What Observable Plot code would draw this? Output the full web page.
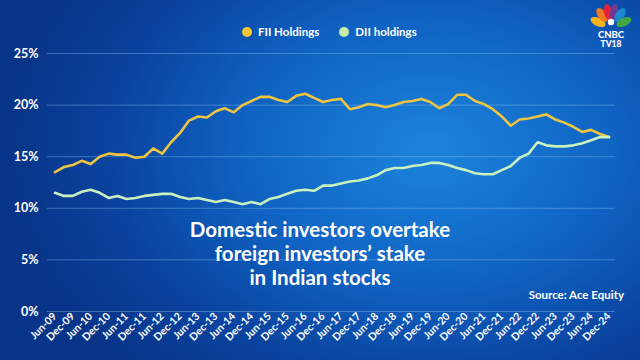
<!DOCTYPE html>
<html>
<head>
<meta charset="utf-8">
<script src="https://cdn.jsdelivr.net/npm/d3@7"></script>
<script src="https://cdn.jsdelivr.net/npm/@observablehq/plot@0.6"></script>
<style>
  html, body { margin: 0; padding: 0; }
  body { width: 640px; height: 360px; overflow: hidden; font-family: Lato, "Open Sans", sans-serif; }
  #wrap {
    position: relative; width: 640px; height: 360px;
    background: radial-gradient(ellipse 420px 300px at 430px 150px, #1c84dc 0%, #0f62c2 45%, #0a44a0 75%, #083589 100%);
  }
  #chart { position: absolute; left: 0; top: 0; }
  .legend { position: absolute; top: 25px; left: 242px; display: flex; gap: 20px; color: #fff; font-weight: 700; font-size: 11.5px; }
  .legend span { display: flex; align-items: center; }
  .legend i { display: inline-block; width: 10px; height: 10px; border-radius: 50%; margin-right: 6px; }
  .title { position: absolute; left: 100px; width: 440px; top: 217px; text-align: center; color: #fff; font-weight: 700; font-size: 20.5px; line-height: 24px; }
  .source { position: absolute; right: 16px; top: 288px; color: #fff; font-weight: 700; font-size: 11.5px; }
  .logo { position: absolute; left: 586px; top: 1px; width: 50px; height: 50px; overflow: visible; }
</style>
</head>
<body>
<div id="wrap">
  <div id="chart"></div>
  <div class="legend">
    <span><i style="background:#f7c733"></i>FII Holdings</span>
    <span><i style="background:#c8eea8"></i>DII holdings</span>
  </div>
  <div class="title">Domestic investors overtake<br>foreign investors’ stake<br>in Indian stocks</div>
  <div class="source">Source: Ace Equity</div>
  <svg class="logo" viewBox="0 0 50 50">
    <g transform="translate(25,27)">
      <ellipse cx="-13" cy="-6" rx="4.2" ry="8" transform="rotate(-65 -13 -6)" fill="#f6b21b"/>
      <ellipse cx="-9" cy="-13" rx="4.2" ry="8" transform="rotate(-35 -9 -13)" fill="#ef7b21"/>
      <ellipse cx="-3" cy="-16" rx="4" ry="8" transform="rotate(-10 -3 -16)" fill="#e2233b"/>
      <ellipse cx="3" cy="-16" rx="4" ry="8" transform="rotate(10 3 -16)" fill="#6e3b8f"/>
      <ellipse cx="9" cy="-13" rx="4.2" ry="8" transform="rotate(35 9 -13)" fill="#1b88d0"/>
      <ellipse cx="13" cy="-6" rx="4.2" ry="8" transform="rotate(65 13 -6)" fill="#43a843"/>
      <circle cx="0" cy="-6" r="3.2" fill="#ffffff"/>
    </g>
    <text x="25" y="36.5" text-anchor="middle" font-family="Lato, sans-serif" font-weight="900" font-size="9.5" fill="#fff">CNBC</text>
    <text x="25" y="46" text-anchor="middle" font-family="Lato, sans-serif" font-weight="900" font-size="8.5" fill="#fff">TV18</text>
  </svg>
</div>
<script>
const quarters = [
  "Jun-09","Sep-09","Dec-09",
  "Mar-10","Jun-10","Sep-10","Dec-10",
  "Mar-11","Jun-11","Sep-11","Dec-11",
  "Mar-12","Jun-12","Sep-12","Dec-12",
  "Mar-13","Jun-13","Sep-13","Dec-13",
  "Mar-14","Jun-14","Sep-14","Dec-14",
  "Mar-15","Jun-15","Sep-15","Dec-15",
  "Mar-16","Jun-16","Sep-16","Dec-16",
  "Mar-17","Jun-17","Sep-17","Dec-17",
  "Mar-18","Jun-18","Sep-18","Dec-18",
  "Mar-19","Jun-19","Sep-19","Dec-19",
  "Mar-20","Jun-20","Sep-20","Dec-20",
  "Mar-21","Jun-21","Sep-21","Dec-21",
  "Mar-22","Jun-22","Sep-22","Dec-22",
  "Mar-23","Jun-23","Sep-23","Dec-23",
  "Mar-24","Jun-24","Sep-24","Dec-24"
];

const fiiHoldings = [
  13.5, 14.0, 14.2, 14.6, 14.3, 15.0, 15.3, 15.2, 15.2, 14.9,
  15.0, 15.8, 15.3, 16.4, 17.3, 18.5, 18.9, 18.8, 19.4, 19.7,
  19.3, 20.0, 20.4, 20.8, 20.8, 20.5, 20.3, 20.9, 21.1, 20.7,
  20.3, 20.5, 20.6, 19.6, 19.8, 20.1, 20.0, 19.8, 20.0, 20.3,
  20.4, 20.6, 20.3, 19.7, 20.1, 21.0, 21.0, 20.4, 20.1, 19.6,
  18.9, 18.0, 18.6, 18.7, 18.9, 19.1, 18.6, 18.3, 17.9, 17.4,
  17.6, 17.2, 16.9
];

const diiHoldings = [
  11.5, 11.2, 11.2, 11.6, 11.8, 11.5, 11.0, 11.2, 10.9, 11.0,
  11.2, 11.3, 11.4, 11.4, 11.1, 10.9, 11.0, 10.8, 10.6, 10.8,
  10.6, 10.4, 10.6, 10.4, 10.9, 11.1, 11.4, 11.7, 11.8, 11.7,
  12.2, 12.2, 12.4, 12.6, 12.7, 12.9, 13.2, 13.7, 13.9, 13.9,
  14.1, 14.2, 14.4, 14.4, 14.2, 13.9, 13.7, 13.4, 13.3, 13.3,
  13.7, 14.1, 14.9, 15.3, 16.4, 16.1, 16.0, 16.0, 16.1, 16.3,
  16.6, 16.9, 16.9
];

const tickLabels = [
  "Jun-09","Dec-09","Jun-10","Dec-10","Jun-11","Dec-11","Jun-12","Dec-12",
  "Jun-13","Dec-13","Jun-14","Dec-14","Jun-15","Dec-15","Jun-16","Dec-16",
  "Jun-17","Dec-17","Jun-18","Dec-18","Jun-19","Dec-19","Jun-20","Dec-20",
  "Jun-21","Dec-21","Jun-22","Dec-22","Jun-23","Dec-23","Jun-24","Dec-24"
];

const yTicks = [0, 5, 10, 15, 20, 25];

const rows = quarters.flatMap((q, i) => [
  {q, v: fiiHoldings[i], s: "FII Holdings"},
  {q, v: diiHoldings[i], s: "DII holdings"}
]);

const chart = Plot.plot({
  width: 640,
  height: 360,
  marginLeft: 47,
  marginRight: 25,
  marginTop: 53,
  marginBottom: 49,
  style: {background: "transparent", color: "#fff", fontFamily: "Lato, sans-serif", overflow: "visible"},
  x: {type: "point", domain: quarters, insetLeft: 3, insetRight: 2},
  y: {domain: [0, 25]},
  color: {domain: ["FII Holdings", "DII holdings"], range: ["#efc43f", "#c9f1bd"]},
  marks: [
    Plot.gridY(yTicks, {stroke: "#9fd0ff", strokeOpacity: 0.35, strokeWidth: 1}),
    Plot.axisY(yTicks, {tickSize: 0, tickPadding: 9, tickFormat: d => d + "%", fontSize: 12.5, fontWeight: 700, fill: "#fff", label: null}),
    Plot.axisX(tickLabels, {tickSize: 0, tickPadding: 3, tickRotate: -45, fontSize: 10.5, fontWeight: 700, fill: "#fff", label: null}),
    Plot.line(rows, {x: "q", y: "v", z: "s", stroke: "s", strokeWidth: 2.6, strokeLinejoin: "round", strokeLinecap: "round"})
  ]
});
document.getElementById("chart").appendChild(chart);
</script>
</body>
</html>
